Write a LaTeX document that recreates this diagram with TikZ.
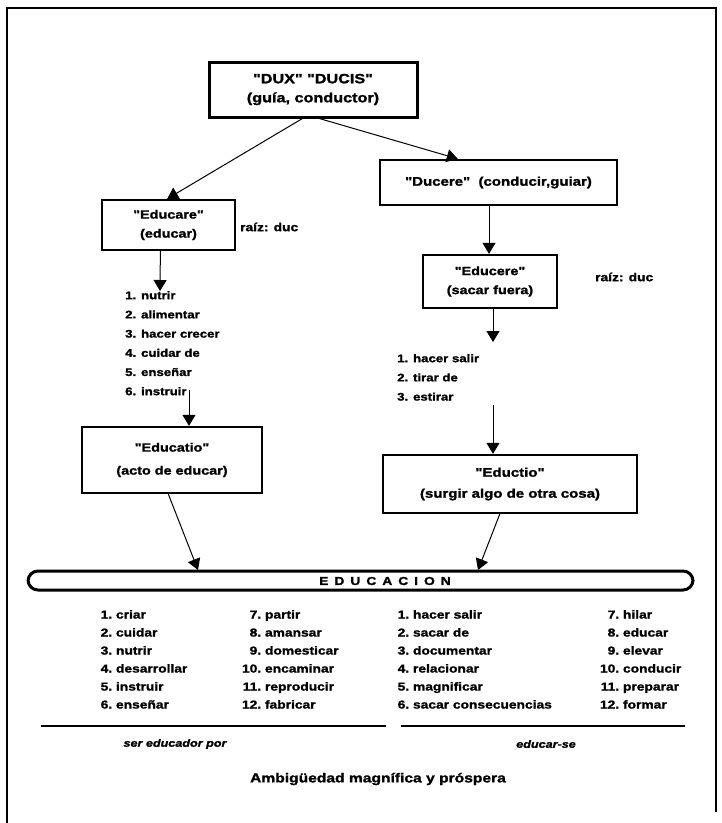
\documentclass[tikz,border=0pt]{standalone}
\usepackage{fontspec}
\setmainfont{Liberation Sans}[FakeStretch=1.2, Ligatures=TeXOff, BoldFeatures={FakeBold=1.5}, BoldItalicFeatures={FakeBold=1.5}]
\usetikzlibrary{arrows.meta,calc}
\newcommand\nm[1]{\makebox[20pt][r]{#1.}\ }
\newcommand\ls{\hspace{6pt}}
\begin{document}
\begin{tikzpicture}[x=1pt,y=-1pt,
  box/.style={draw, line width=2.3pt, align=center, inner sep=0pt, font=\bfseries\fontsize{12}{19}\selectfont},
  arr/.style={-{Triangle[length=11pt,width=13pt]}, line width=1pt},
  lst/.style={anchor=north west, align=left, inner sep=0pt, font=\bfseries\fontsize{11}{19.2}\selectfont},
  col/.style={anchor=north west, align=left, inner sep=0pt, font=\bfseries\fontsize{11.5}{18}\selectfont},
  note/.style={anchor=west, inner sep=0pt, font=\bfseries\fontsize{11.5}{13}\selectfont},
  captxt/.style={inner sep=0pt, font=\bfseries\itshape\fontsize{10.5}{12}\selectfont},
]
\useasboundingbox (0,0) rectangle (722,823);
% frame
\draw[line width=2.5pt] (7,823) -- (7,8) -- (716,8) -- (716,812);
% boxes
\node[box, line width=3pt, minimum width=208pt, minimum height=55pt, font=\bfseries\fontsize{13.5}{19}\selectfont] (dux) at (313,89.5) {"DUX" "DUCIS"\\(guía, conductor)};
\node[box, minimum width=133pt, minimum height=50pt] (educare) at (168.5,225) {"Educare"\\(educar)};
\node[note] (raiz1) at (240,227) {raíz: duc};
\node[box, minimum width=237pt, minimum height=45pt, font=\bfseries\fontsize{12.5}{19}\selectfont] (ducere) at (498.5,182.5) {"Ducere"\ \ (conducir,guiar)};
\node[box, minimum width=134pt, minimum height=53pt] (educere) at (490,281.5) {"Educere"\\(sacar fuera)};
\node[note] (raiz2) at (595,277) {raíz: duc};
\node[box, minimum width=180pt, minimum height=66pt, font=\bfseries\fontsize{12}{23}\selectfont] (educatio) at (172,460) {"Educatio"\\(acto de educar)};
\node[box, minimum width=254pt, minimum height=58pt, font=\bfseries\fontsize{12.5}{21}\selectfont] (eductio) at (510,484) {"Eductio"\\(surgir algo de otra cosa)};
% lists
\node[lst] (list1) at (125,291) {1. nutrir\\2. alimentar\\3. hacer crecer\\4. cuidar de\\5. enseñar\\6. instruir};
\node[lst] (list2) at (397,354) {1. hacer salir\\2. tirar de\\3. estirar};
% bar
\node[draw, line width=3pt, rounded corners=10pt, minimum width=665pt, minimum height=19pt, inner sep=0pt] (bar) at (360.5,580.5) {};
\node[inner sep=0pt, font=\bfseries\fontsize{11.5}{13}\selectfont] (edu) at (385,581) {E\ls D\ls U\ls C\ls A\ls C\ls I\ls O\ls N};
% connector end points
\coordinate (c1) at (160,291);
\coordinate (c2s) at (189,390);
\coordinate (c3) at (493,342);
\coordinate (c4s) at (493,405);
\coordinate (b1) at (198,570);
\coordinate (b2) at (478,570);
% arrows
\draw[arr] ($(dux.south west)!0.45!(dux.south east)$) -- ($(educare.north west)!0.49!(educare.north east)$);
\draw[arr] ($(dux.south west)!0.53!(dux.south east)$) -- ($(ducere.north west)!0.33!(ducere.north east)$);
\draw[arr] ($(educare.south west)!0.44!(educare.south east)$) -- (c1);
\draw[arr] (c2s) -- (c2s |- educatio.north);
\draw[arr] (ducere.south -| 489,0) -- (educere.north -| 489,0);
\draw[arr] (educere.south -| c3) -- (c3);
\draw[arr] (c4s) -- (c4s |- eductio.north);
\draw[arr] ($(educatio.south west)!0.48!(educatio.south east)$) -- (b1);
\draw[arr] ($(eductio.south west)!0.46!(eductio.south east)$) -- (b2);
% columns
\node[col] (k1) at (92,610) {\nm{1}criar\\\nm{2}cuidar\\\nm{3}nutrir\\\nm{4}desarrollar\\\nm{5}instruir\\\nm{6}enseñar};
\node[col] (k2) at (241,610) {\nm{7}partir\\\nm{8}amansar\\\nm{9}domesticar\\\nm{10}encaminar\\\nm{11}reproducir\\\nm{12}fabricar};
\node[col] (k3) at (389,610) {\nm{1}hacer salir\\\nm{2}sacar de\\\nm{3}documentar\\\nm{4}relacionar\\\nm{5}magnificar\\\nm{6}sacar consecuencias};
\node[col] (k4) at (599,610) {\nm{7}hilar\\\nm{8}educar\\\nm{9}elevar\\\nm{10}conducir\\\nm{11}preparar\\\nm{12}formar};
% separators
\draw[line width=1.5pt] (41,726) -- (386,726);
\draw[line width=1.5pt] (401,726) -- (685,726);
\node[captxt] (t1) at (175,744) {ser educador por};
\node[captxt] (t2) at (546,744) {educar-se};
\node[font=\bfseries\fontsize{13}{16}\selectfont, inner sep=0pt] (amb) at (378,779) {Ambigüedad magnífica y próspera};
\end{tikzpicture}
\end{document}
